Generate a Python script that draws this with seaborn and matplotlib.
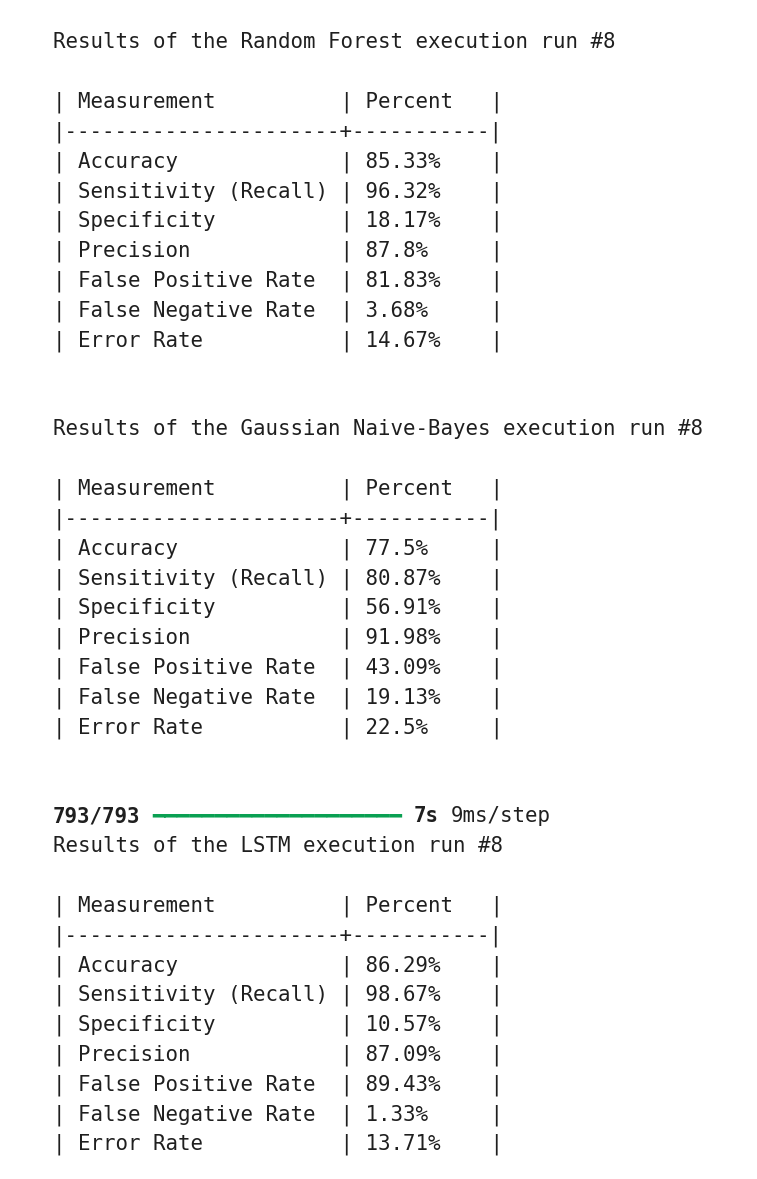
import matplotlib
matplotlib.use("Agg")
import matplotlib.pyplot as plt
import seaborn as sns

sns.set_theme(style="white")
plt.rcParams['font.family'] = ['DejaVu Sans Mono', 'DejaVu Sans']

# console output of three model runs
RUN_NO = 8
MODELS = ["Random Forest", "Gaussian Naive-Bayes", "LSTM"]
MEASUREMENTS = ["Accuracy", "Sensitivity (Recall)", "Specificity", "Precision",
                "False Positive Rate", "False Negative Rate", "Error Rate"]
RF_PERCENT = [85.33, 96.32, 18.17, 87.8, 81.83, 3.68, 14.67]
GNB_PERCENT = [77.5, 80.87, 56.91, 91.98, 43.09, 19.13, 22.5]
LSTM_PERCENT = [86.29, 98.67, 10.57, 87.09, 89.43, 1.33, 13.71]
STEPS_DONE = 793
STEPS_TOTAL = 793
EPOCH_TIME = "7s"
STEP_TIME = "9ms/step"

TEXT_COLOR = "#1f1f1f"
BAR_COLOR = "#0aa052"
CHAR_W = 12.45          # px per monospace cell
LINE_H = 29.77          # px per line
X0 = 52.8
BASE0 = 48.3
FONT_PT = CHAR_W / 0.6005 * 72 / 100


def table_lines(values):
    lines = ["| " + "Measurement".ljust(21) + "| " + "Percent".ljust(10) + "|",
             "|" + "-" * 22 + "+" + "-" * 11 + "|"]
    for name, v in zip(MEASUREMENTS, values):
        lines.append("| " + name.ljust(21) + "| " + f"{v}%".ljust(10) + "|")
    return lines


def put(ax, line_no, col, s, **kw):
    ax.text(X0 + col * CHAR_W, BASE0 + line_no * LINE_H, s, ha='left', va='baseline',
            fontsize=FONT_PT, color=kw.pop('color', TEXT_COLOR), **kw)


fig = plt.figure(figsize=(7.57, 11.79), dpi=100)
fig.patch.set_facecolor('white')
ax = fig.add_axes([0, 0, 1, 1])
ax.set_xlim(0, 757)
ax.set_ylim(1179, 0)
ax.axis('off')

# (title line, values) for each block
blocks = [(0, RF_PERCENT), (13, GNB_PERCENT), (27, LSTM_PERCENT)]
for (start, values), model in zip(blocks, MODELS):
    put(ax, start, 0, f"Results of the {model} execution run #{RUN_NO}")
    for i, line in enumerate(table_lines(values)):
        put(ax, start + 2 + i, 0, line)

# keras progress line before the LSTM results
prog = f"{STEPS_DONE}/{STEPS_TOTAL}"
put(ax, 26, 0, prog, fontweight='bold')
put(ax, 26, len(prog) + 1, "\u2501" * 20, color=BAR_COLOR)
put(ax, 26, len(prog) + 22, EPOCH_TIME, fontweight='bold')
put(ax, 26, len(prog) + 22 + len(EPOCH_TIME) + 1, STEP_TIME)

sns.despine(ax=ax, left=True, bottom=True)
fig.savefig("out.png", dpi=100, facecolor='white')
